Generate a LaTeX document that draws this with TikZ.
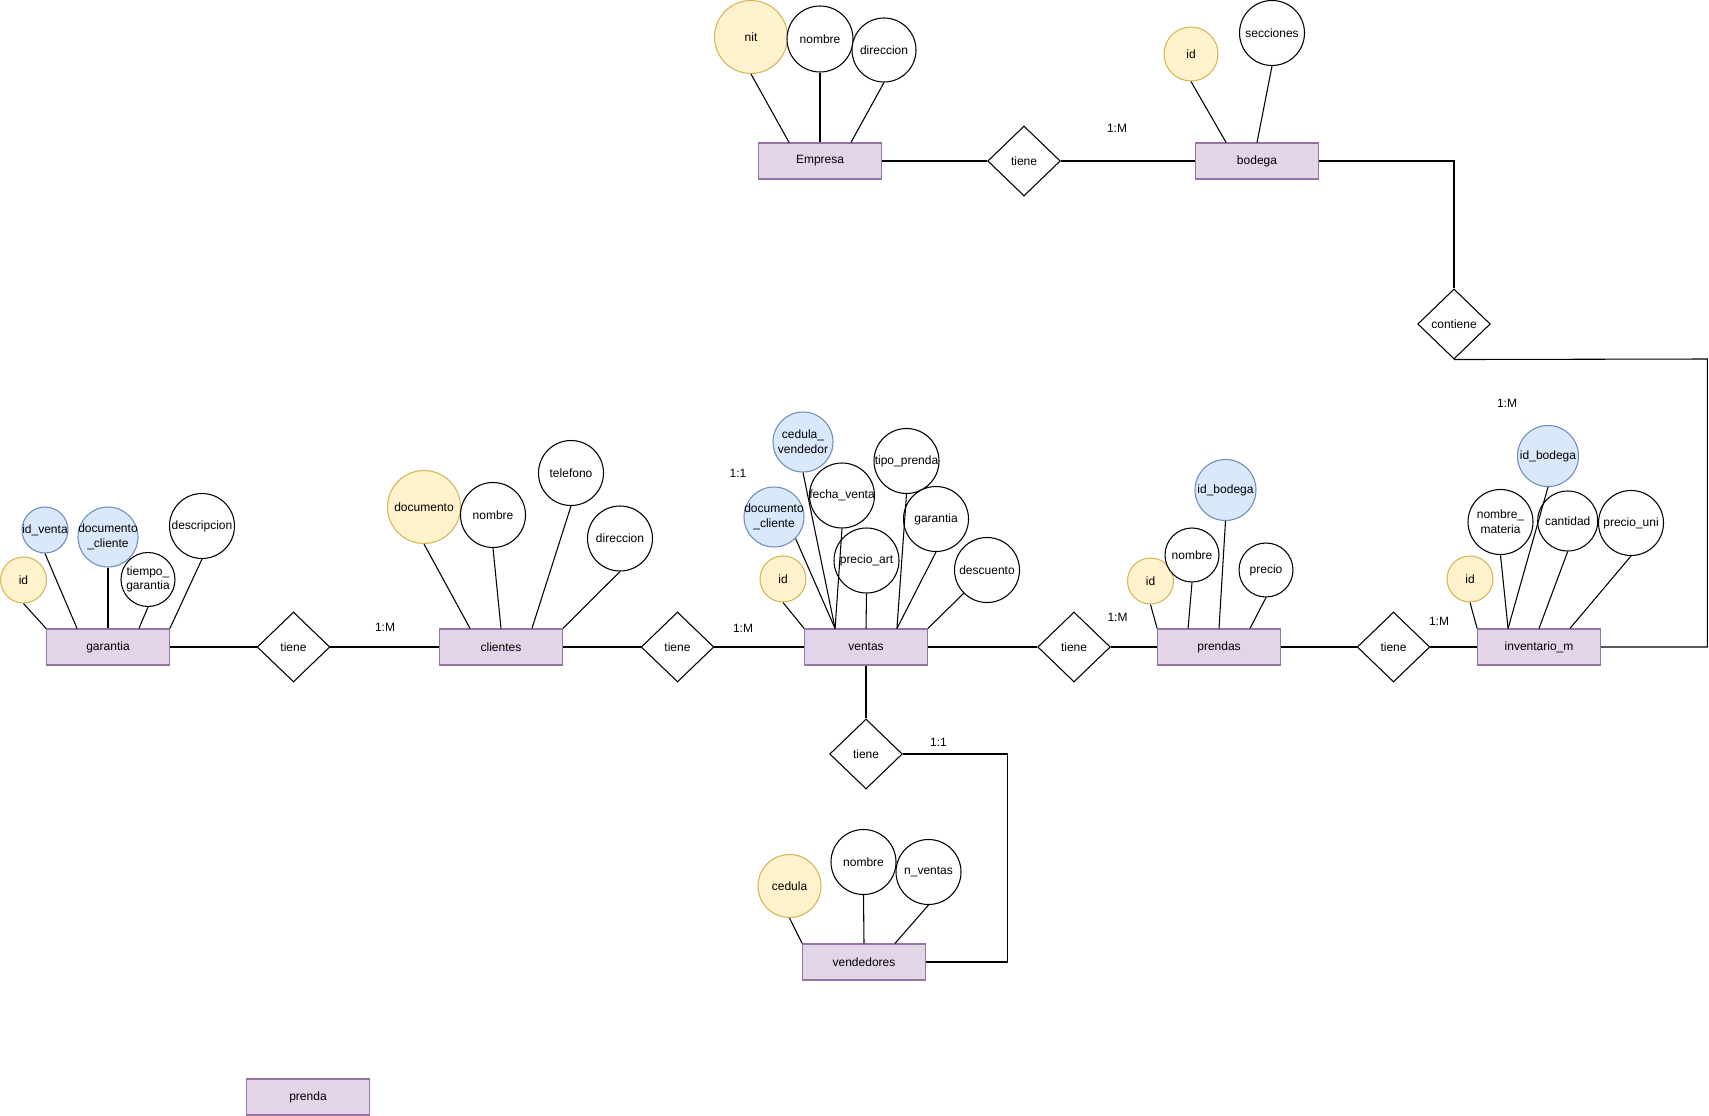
\documentclass[tikz,border=0pt]{standalone}
\usepackage{fontspec}
\setmainfont{Liberation Sans}
\usetikzlibrary{shapes.geometric,calc}

\definecolor{entfill}{HTML}{E1D5E7}
\definecolor{entline}{HTML}{9673A6}
\definecolor{pkfill}{HTML}{FFF2CC}
\definecolor{pkline}{HTML}{D6B656}
\definecolor{fkfill}{HTML}{DAE8FC}
\definecolor{fkline}{HTML}{6C8EBF}

\begin{document}
\begin{tikzpicture}[x=0.75pt,y=-0.75pt,line width=0.8pt,font=\fontsize{9}{11}\selectfont,
	ent/.style={rectangle,draw=entline,fill=entfill,minimum width=92pt,minimum height=27pt,inner sep=0pt},
	rel/.style={diamond,draw,fill=white,aspect=1,minimum width=54.5pt,minimum height=52.5pt,inner sep=0pt},
	att/.style={circle,draw,fill=white,align=center,inner sep=-4pt,minimum size=#1*0.75pt},
	att/.default=65,
	pk/.style={att=#1,draw=pkline,fill=pkfill},
	pk/.default=46,
	fk/.style={att=#1,draw=fkline,fill=fkfill},
	fk/.default=60,
	card/.style={inner sep=0pt}]
\useasboundingbox (0,0) rectangle (1709,1116);

% entidades
\node[ent] (emp) at (820,161) {Empresa};
\node[ent] (bod) at (1257,161) {bodega};
\node[ent] (gar) at (108,647) {garantia};
\node[ent] (cli) at (501,647) {clientes};
\node[ent] (ven) at (866,647) {ventas};
\node[ent] (pre) at (1219,647) {prendas};
\node[ent] (inv) at (1539,647) {inventario\_m};
\node[ent] (vnd) at (864,962) {vendedores};
\node[ent] (prenda) at (308,1097) {prenda};

% relaciones
\node[rel] (remp) at (1024,161) {tiene};
\node[rel] (rbod) at (1454,324) {contiene};
\node[rel] (rgar) at (293.5,647) {tiene};
\node[rel] (rcli) at (677.5,647) {tiene};
\node[rel] (rpre) at (1074,647) {tiene};
\node[rel] (rinv) at (1393.5,647) {tiene};
\node[rel] (rvnd) at (866,754) {tiene};

% cardinalidades
\node[card] (c1) at (1117,128) {1:M};
\node[card] (c2) at (1507,403) {1:M};
\node[card] (c3) at (385,627) {1:M};
\node[card] (c4) at (743,628) {1:M};
\node[card] (c5) at (738,473) {1:1};
\node[card] (c6) at (1117.5,617) {1:M};
\node[card] (c7) at (1439,621) {1:M};
\node[card] (c8) at (938.5,742) {1:1};

% atributos Empresa y bodega
\node[pk=73] (empnit) at (751,37) {nit};
\node[att=66] (empnom) at (820,39) {nombre};
\node[att=64] (empdir) at (884,50) {direccion};
\node[pk=54] (bodid) at (1191,54) {id};
\node[att] (bodsec) at (1272,33) {secciones};

% atributos garantia
\node[pk] (garid) at (23.5,580) {id};
\node[fk=46] (garven) at (45,530) {id\_venta};
\node[fk] (gardoc) at (108,537) {documento\\\_cliente};
\node[att=54] (gartie) at (148,579.5) {tiempo\_\\garantia};
\node[att] (gardes) at (202,526) {descripcion};

% atributos clientes
\node[pk=73] (clidoc) at (424,507) {documento};
\node[att] (clinom) at (493,515) {nombre};
\node[att] (clitel) at (571,473) {telefono};
\node[att] (clidir) at (620,538.5) {direccion};

% atributos ventas
\node[pk] (venid) at (783,579) {id};
\node[fk] (vendoc) at (774,517) {documento\\\_cliente};
\node[fk] (venced) at (803,442) {cedula\_\\vendedor};
\node[att] (venfec) at (842,495.5) {fecha\_venta};
\node[att] (venpre) at (866.5,560.5) {precio\_art};
\node[att] (ventip) at (906.5,461) {tipo\_prenda};
\node[att] (vengar) at (936,519) {garantia};
\node[att] (vendes) at (987,570) {descuento};

% atributos prendas
\node[pk] (preid) at (1150.5,581) {id};
\node[att=54] (prenom) at (1192,555) {nombre};
\node[fk=61] (prebod) at (1225.5,490) {id\_bodega};
\node[att=54] (prepre) at (1266,570) {precio};

% atributos inventario
\node[pk] (invid) at (1470,579) {id};
\node[att] (invnom) at (1500.5,522) {nombre\_\\materia};
\node[fk=61] (invbod) at (1548,456) {id\_bodega};
\node[att=60] (invcan) at (1567.7,521) {cantidad};
\node[att] (invpre) at (1631,523) {precio\_uni};

% atributos vendedores
\node[pk=63] (vndced) at (789.5,886) {cedula};
\node[att] (vndnom) at (863.5,862) {nombre};
\node[att] (vndnve) at (928.5,872) {n\_ventas};

% lineas de atributos
\foreach \e/\a/\an/\f in {
	emp/nit/south/.25, emp/nom/south/.5, emp/dir/south/.75,
	bod/id/south/.25, bod/sec/south/.5,
	gar/id/south/0, gar/ven/south/.25, gar/doc/south/.5, gar/tie/south/.75, gar/des/south/1,
	cli/doc/south/.25, cli/nom/south/.5, cli/tel/south/.75, cli/dir/south/1,
	ven/id/south/0, ven/doc/-45/.25, ven/ced/south/.25, ven/fec/south/.25, ven/pre/south/.5,
	ven/tip/south/.75, ven/gar/south/.75, ven/des/-135/1,
	pre/id/south/0, pre/nom/south/.25, pre/bod/south/.5, pre/pre/south/.75,
	inv/id/south/0, inv/nom/south/.25, inv/bod/south/.25, inv/can/south/.5, inv/pre/south/.75,
	vnd/ced/south/0, vnd/nom/south/.5, vnd/nve/south/.75}
	\draw (\e\a.\an) -- ($(\e.north west)!\f!(\e.north east)$);

% relaciones entre entidades
\coordinate (cnrv) at (1007.3,754);
\coordinate (cnri) at (1707.3,359);
\draw (emp) -- (remp) -- (bod);
\draw (bod.east) -| (rbod.north);
\draw (rbod.south) -- (cnri) |- (inv.east);
\draw (gar) -- (rgar) -- (cli) -- (rcli) -- (ven) -- (rpre) -- (pre) -- (rinv) -- (inv);
\draw (ven) -- (rvnd);
\draw (rvnd.east) -- (cnrv) |- (vnd.east);
\end{tikzpicture}
\end{document}
